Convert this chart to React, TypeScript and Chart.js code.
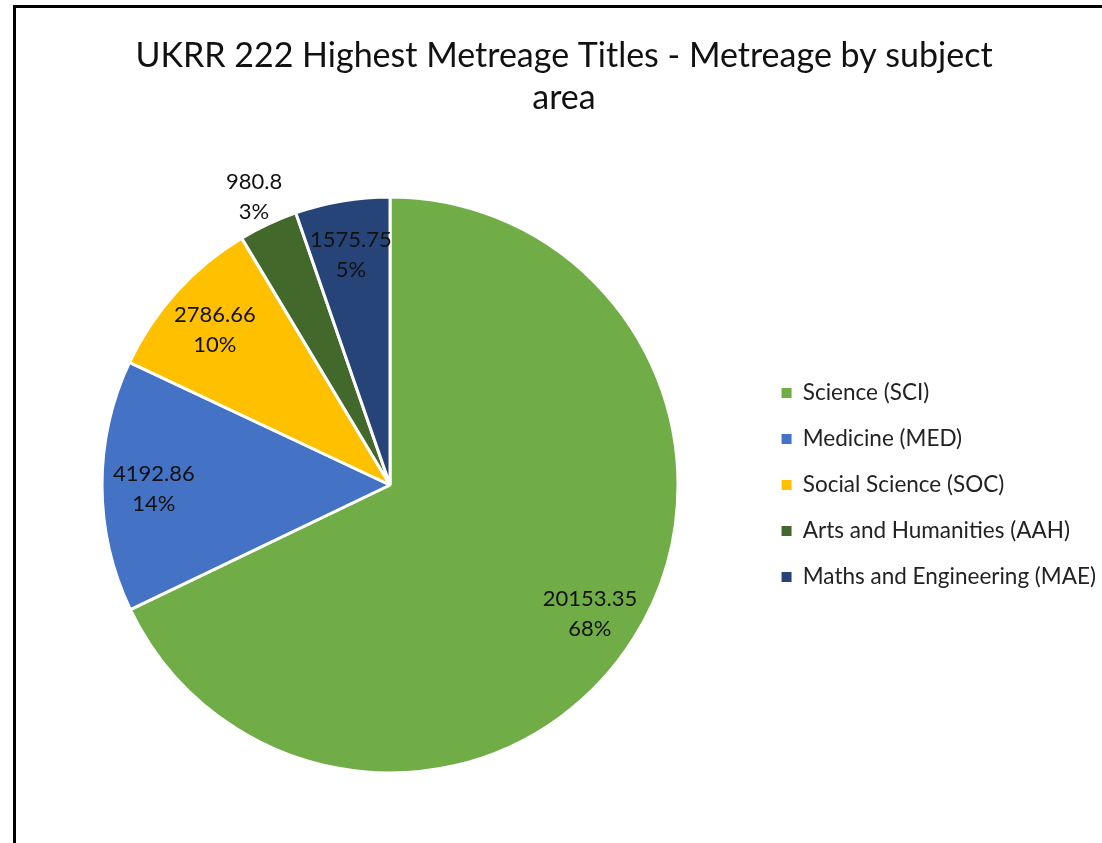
import React, { useEffect, useRef } from "react";
import { Chart, registerables } from "chart.js";

Chart.register(...registerables);

const categories = [
  "Science (SCI)",
  "Medicine (MED)",
  "Social Science (SOC)",
  "Arts and Humanities (AAH)",
  "Maths and Engineering (MAE)",
];
const metreage = [20153.35, 4192.86, 2786.66, 980.8, 1575.75];
const colors = ["#70AD47", "#4472C4", "#FFC000", "#43682B", "#264478"];
const titleLines = ["UKRR 222 Highest Metreage Titles - Metreage by subject", "area"];

const FONT = "Lato, 'Open Sans', sans-serif";

// Percentages rounded so they add to 100 (largest remainder), as spreadsheet pies do
function roundedPercents(values: number[]): number[] {
  const total = values.reduce((a, b) => a + b, 0);
  const raw = values.map((v) => (v / total) * 100);
  const floors = raw.map((r) => Math.floor(r));
  let rest = 100 - floors.reduce((a, b) => a + b, 0);
  const order = raw
    .map((r, i) => ({ i, rem: r - Math.floor(r) }))
    .sort((a, b) => b.rem - a.rem);
  for (let k = 0; k < order.length && rest > 0; k++, rest--) floors[order[k].i] += 1;
  return floors;
}

const labelPlugin = {
  id: "sliceLabels",
  afterDatasetsDraw(chart: any) {
    const ctx = chart.ctx;
    const meta = chart.getDatasetMeta(0);
    const data = chart.data.datasets[0].data as number[];
    const total = data.reduce((a, b) => a + b, 0);
    const pcts = roundedPercents(data);
    ctx.save();
    ctx.font = `22px ${FONT}`;
    ctx.fillStyle = "#111";
    ctx.textAlign = "center";
    ctx.textBaseline = "middle";
    meta.data.forEach((arc: any, i: number) => {
      const { x, y, startAngle, endAngle, outerRadius } = arc.getProps(
        ["x", "y", "startAngle", "endAngle", "outerRadius"],
        true
      );
      const frac = data[i] / total;
      const mid = (startAngle + endAngle) / 2;
      const r = frac < 0.04 ? outerRadius * 1.115 : outerRadius * 0.82;
      const cx = x + Math.cos(mid) * r;
      const cy = y + Math.sin(mid) * r;
      ctx.fillText(String(data[i]), cx, cy - 12);
      ctx.fillText(pcts[i] + "%", cx, cy + 18);
    });
    ctx.restore();
  },
};

export default function App() {
  const ref = useRef<HTMLCanvasElement>(null);
  useEffect(() => {
    if (!ref.current) return;
    const defaultGen = (Chart as any).overrides.doughnut.plugins.legend.labels.generateLabels;
    const chart = new Chart(ref.current, {
      type: "pie",
      data: {
        labels: categories,
        datasets: [
          {
            data: metreage,
            backgroundColor: colors,
            borderColor: "#ffffff",
            borderWidth: 3,
            hoverOffset: 0,
            radius: 288,
          } as any,
        ],
      },
      options: {
        responsive: false,
        animation: false,
        layout: { padding: { left: 22, right: 0, top: 0, bottom: 0 } },
        plugins: {
          tooltip: { enabled: false },
          title: {
            display: true,
            text: titleLines,
            color: "#111",
            font: { family: FONT, size: 34, weight: "normal", lineHeight: 42 / 34 },
            padding: { top: 35, bottom: 8 },
          },
          legend: {
            position: "right",
            fullSize: false,
            labels: {
              boxWidth: 10,
              boxHeight: 10,
              padding: 23.5,
              color: "#222",
              font: { family: FONT, size: 22.5 },
              generateLabels: (c: any) =>
                defaultGen(c).map((l: any) => ({ ...l, lineWidth: 0, strokeStyle: l.fillStyle })),
            },
          },
        },
      },
      plugins: [labelPlugin],
    });
    return () => chart.destroy();
  }, []);

  return (
    <div
      style={{
        position: "fixed",
        left: 0,
        top: 0,
        width: 1102,
        height: 843,
        overflow: "hidden",
        background: "#fff",
      }}
    >
      <canvas ref={ref} width={1106} height={843} style={{ position: "absolute", left: 0, top: 0 }} />
      <div
        style={{
          position: "absolute",
          left: 13,
          top: 5,
          width: 1200,
          height: 900,
          borderLeft: "3px solid #000",
          borderTop: "3px solid #000",
          pointerEvents: "none",
        }}
      />
    </div>
  );
}
